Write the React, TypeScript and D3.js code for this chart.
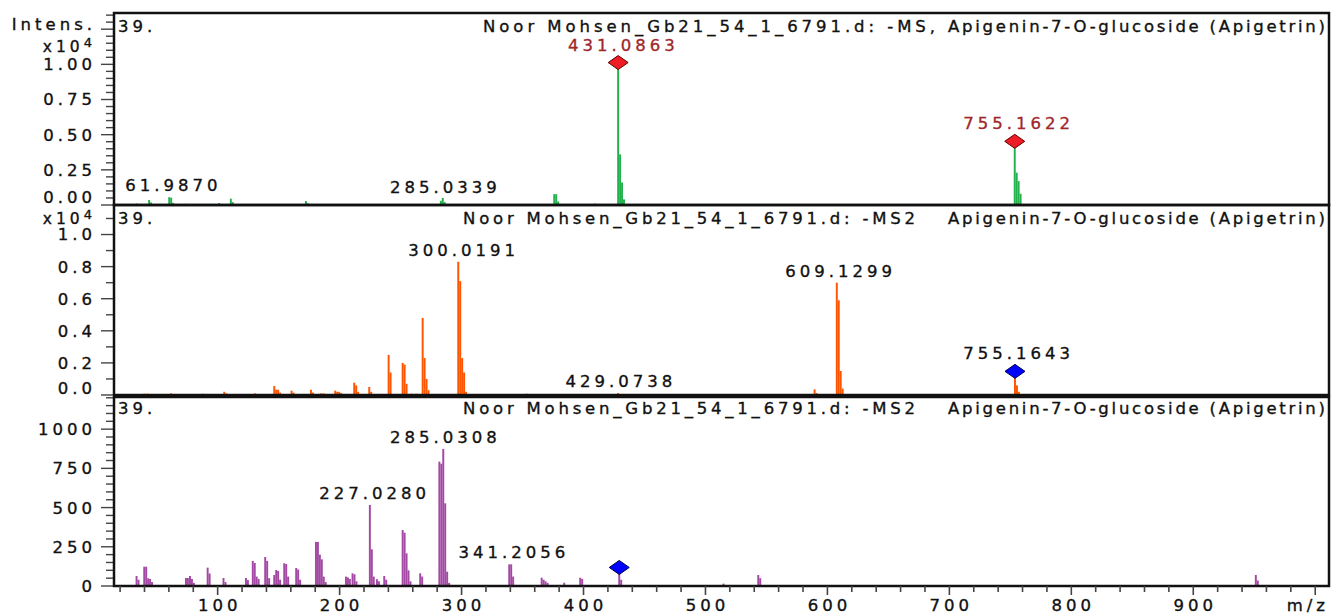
// Stacked MS / MS2 spectra for Apigenin-7-O-glucoside, drawn with d3 scales.
import * as d3 from "d3";

// ---- data ----
const mzDomain: [number, number] = [15, 1011.3];
const mzTickLabels = [100, 200, 300, 400, 500, 600, 700, 800, 900];

const fileTitles = [
  "Noor Mohsen_Gb21_54_1_6791.d: -MS,",
  "Noor Mohsen_Gb21_54_1_6791.d: -MS2",
  "Noor Mohsen_Gb21_54_1_6791.d: -MS2",
];
const compound = "Apigenin-7-O-glucoside (Apigetrin)";
const scanNo = "39.";

// panel 1: MS (x10^4)
const ms1Ticks = [0, 0.25, 0.5, 0.75, 1.0];
const ms1Sticks: [number, number][] = [
  [32.8, 0.01],
  [43.0, 0.035], [44.6, 0.018],
  [59.5, 0.056], [61.1, 0.052], [62.7, 0.015],
  [73.0, 0.008],
  [100.5, 0.014],
  [110.0, 0.045], [111.6, 0.02],
  [171.6, 0.028], [173.2, 0.012], [176.5, 0.008],
  [282.2, 0.03], [283.8, 0.05], [285.4, 0.02],
  [375.2, 0.077], [376.8, 0.077], [378.4, 0.025],
  [408.6, 0.01],
  [427.6, 0.97], [429.2, 0.36], [430.8, 0.16], [432.4, 0.04],
  [752.8, 0.41], [754.4, 0.23], [756.0, 0.17], [757.6, 0.08],
  [819.5, 0.006], [867.0, 0.006],
];
const ms1Labels = [
  { mz: 61.987, text: "61.9870", value: 0.056, marked: false },
  { mz: 285.0339, text: "285.0339", value: 0.045, marked: false },
  { mz: 431.0863, text: "431.0863", value: 0.97, marked: true },
  { mz: 755.1622, text: "755.1622", value: 0.41, marked: true },
];
const ms1Markers = [
  { mz: 428.4, value: 0.97 },
  { mz: 753.6, value: 0.41 },
];

// panel 2: MS2 (x10^4)
const ms2Ticks = [0, 0.2, 0.4, 0.6, 0.8, 1.0];
const ms2Sticks: [number, number][] = [
  [39.0, 0.008], [41.7, 0.008], [61.0, 0.01], [87.0, 0.008],
  [104.6, 0.02], [106.2, 0.01], [130.0, 0.01],
  [145.6, 0.056], [147.2, 0.033], [148.8, 0.033], [150.4, 0.015],
  [159.8, 0.027], [161.4, 0.015],
  [175.7, 0.033], [177.3, 0.015],
  [184.0, 0.01], [186.0, 0.01],
  [195.6, 0.027], [197.2, 0.02], [198.8, 0.02], [200.4, 0.012],
  [211.2, 0.077], [212.8, 0.06], [214.4, 0.02],
  [223.5, 0.05], [225.1, 0.02],
  [239.4, 0.25], [241.0, 0.14],
  [250.9, 0.2], [252.5, 0.19], [254.1, 0.07],
  [258.0, 0.008], [262.0, 0.008],
  [267.3, 0.48], [268.9, 0.23], [270.5, 0.1], [272.1, 0.03],
  [296.5, 0.83], [298.1, 0.71], [299.7, 0.23], [301.3, 0.14], [302.9, 0.02],
  [352.5, 0.008],
  [427.5, 0.012], [429.1, 0.005],
  [497.0, 0.005], [505.0, 0.006], [519.0, 0.005],
  [588.7, 0.035], [590.3, 0.012],
  [606.9, 0.7], [608.5, 0.59], [610.1, 0.15], [611.7, 0.04],
  [753.0, 0.11], [754.6, 0.06], [756.2, 0.02],
];
const ms2Labels = [
  { mz: 300.0191, text: "300.0191", value: 0.83, marked: false },
  { mz: 429.0738, text: "429.0738", value: 0.012, marked: false },
  { mz: 609.1299, text: "609.1299", value: 0.7, marked: false },
  { mz: 755.1643, text: "755.1643", value: 0.11, marked: true },
];
const ms2Markers = [{ mz: 753.8, value: 0.11 }];

// panel 3: MS2 (absolute counts)
const ms3Ticks = [0, 250, 500, 750, 1000];
const ms3Sticks: [number, number][] = [
  [32.7, 64], [34.3, 40],
  [39.0, 123], [40.6, 123], [42.2, 49], [43.8, 45], [45.4, 25],
  [73.2, 51], [74.8, 51], [76.5, 64], [78.1, 45], [79.7, 20],
  [91.0, 117], [92.6, 80],
  [104.0, 51], [105.6, 25],
  [122.4, 51], [124.0, 38],
  [128.0, 160], [129.6, 147], [131.2, 60], [132.8, 45],
  [138.2, 185], [139.8, 160], [141.4, 50],
  [145.6, 70], [147.2, 102], [148.8, 96], [150.4, 40],
  [153.8, 145], [155.4, 140], [157.0, 60],
  [163.6, 115], [165.2, 105], [166.8, 40],
  [179.8, 281], [181.4, 281], [183.0, 200], [184.6, 170], [186.2, 60], [187.8, 25],
  [204.4, 60], [206.0, 55], [207.6, 45],
  [209.8, 81], [211.4, 75], [213.0, 30],
  [224.0, 517], [225.6, 234], [227.2, 60],
  [229.8, 43], [231.4, 30],
  [235.8, 64], [237.4, 40],
  [250.9, 357], [252.5, 340], [254.1, 208], [255.7, 100], [257.3, 30],
  [265.3, 81], [266.9, 60],
  [281.0, 793], [282.6, 780], [284.2, 874], [285.8, 527], [287.4, 91], [289.0, 20],
  [338.3, 138], [339.9, 138], [341.5, 60],
  [364.9, 53], [366.5, 40], [368.1, 30], [369.7, 20],
  [383.4, 21],
  [396.5, 53], [398.1, 45],
  [428.5, 80], [430.1, 40],
  [514.0, 15],
  [542.5, 70], [544.1, 50],
  [950.5, 70], [952.1, 35],
];
const ms3Labels = [
  { mz: 227.028, text: "227.0280", value: 517, marked: false },
  { mz: 285.0308, text: "285.0308", value: 874, marked: false },
  { mz: 341.2056, text: "341.2056", value: 138, marked: false },
];
const ms3Markers = [{ mz: 429.3, value: 80 }];

// ---- layout / style ----
const W = 1332;
const H = 616;
const X0 = 114;
const X1 = 1329;
const STICK_MZ = 1.6;
const FONT = "'DejaVu Sans', Verdana, sans-serif";
const LS = 4.0; // letter spacing of the stretched original

const x = d3.scaleLinear().domain(mzDomain).range([X0, X1]);

const panels = [
  {
    top: 13, bottom: 205, yMax: 1.365, major: 0.25, minor: 0.05,
    ticks: ms1Ticks, fmt: d3.format(".2f"), zeroShift: -8, exp: true,
    sticks: ms1Sticks, color: "#22b14c", labels: ms1Labels, markers: ms1Markers,
    markFill: "#ee1c24", markStroke: "#600000", markLabel: "#a0282a",
    title: fileTitles[0], titleX: 483, titleBase: 32,
  },
  {
    top: 205, bottom: 395, yMax: 1.184, major: 0.2, minor: 0.1,
    ticks: ms2Ticks, fmt: d3.format(".1f"), zeroShift: -7, exp: true,
    sticks: ms2Sticks, color: "#ff5500", labels: ms2Labels, markers: ms2Markers,
    markFill: "#0000ff", markStroke: "#000050", markLabel: "#111",
    title: fileTitles[1], titleX: 463, titleBase: 224,
  },
  {
    top: 397, bottom: 586, yMax: 1205, major: 250, minor: 50,
    ticks: ms3Ticks, fmt: d3.format("d"), zeroShift: 0, exp: false,
    sticks: ms3Sticks, color: "#a349a4", labels: ms3Labels, markers: ms3Markers,
    markFill: "#0000ff", markStroke: "#000050", markLabel: "#111",
    title: fileTitles[2], titleX: 463, titleBase: 414,
  },
];

// slight stroke to mimic the heavier ClearType rendering
const textStyle = {
  fontFamily: FONT,
  fontSize: 16.5,
  letterSpacing: `${LS}px`,
  stroke: "currentColor",
  strokeWidth: 0.35,
};

function Panel({ p, first }: { p: any; first: boolean }) {
  const y = d3.scaleLinear().domain([0, p.yMax]).range([p.bottom, p.top]);
  const minorTicks = d3.range(0, p.yMax + 1e-9, p.minor);
  const isMajor = (v: number) => Math.abs(v / p.major - Math.round(v / p.major)) < 1e-6;
  const diamond = (cx: number, cy: number) =>
    `M${cx},${cy - 7}L${cx + 10},${cy}L${cx},${cy + 7}L${cx - 10},${cy}Z`;

  return (
    <g>
      {/* spectrum sticks */}
      {p.sticks.map(([mz, v]: [number, number], i: number) => (
        <rect
          key={i}
          x={x(mz)}
          y={y(v)}
          width={x(mz + STICK_MZ) - x(mz)}
          height={p.bottom - y(v)}
          fill={p.color}
        />
      ))}

      {/* y ticks */}
      {minorTicks.map((v: number, i: number) => (
        <line
          key={i}
          x1={isMajor(v) ? 101 : 106}
          x2={X0}
          y1={y(v)}
          y2={y(v)}
          stroke="#444"
          strokeWidth={1.4}
        />
      ))}
      {p.ticks.map((v: number) => (
        <text
          key={v}
          x={92 + LS}
          y={y(v) + (v === 0 ? p.zeroShift : 0)}
          dy="0.36em"
          textAnchor="end"
          fill="#111"
          color="#111"
          style={textStyle}
        >
          {p.fmt(v)}
        </text>
      ))}
      {first && (
        <text x={92 + LS} y={30} textAnchor="end" fill="#111" color="#111" style={textStyle}>
          Intens.
        </text>
      )}
      {p.exp && (
        <text
          x={92 + LS}
          y={first ? 52 : 224}
          textAnchor="end"
          fill="#111"
          color="#111"
          style={{ ...textStyle, fontSize: 15.5 }}
        >
          x10
          <tspan dy={-5.5} fontSize={13}>4</tspan>
        </text>
      )}

      {/* frame */}
      <rect
        x={X0}
        y={p.top}
        width={X1 - X0}
        height={p.bottom - p.top}
        fill="none"
        stroke="#111"
        strokeWidth={2.5}
      />

      {/* header */}
      <text x={118} y={p.titleBase} fill="#111" color="#111" style={textStyle}>
        {scanNo}
      </text>
      <text
        x={p.titleX}
        y={p.titleBase}
        fill="#111"
        textLength={452}
        lengthAdjust="spacing"
        style={{ fontFamily: FONT, fontSize: 16.5, stroke: "#111", strokeWidth: 0.35 }}
      >
        {p.title}
      </text>
      <text
        x={1325 - 377}
        y={p.titleBase}
        fill="#111"
        textLength={377}
        lengthAdjust="spacing"
        style={{ fontFamily: FONT, fontSize: 16.5, stroke: "#111", strokeWidth: 0.35 }}
      >
        {compound}
      </text>

      {/* precursor markers */}
      {p.markers.map((m: any, i: number) => (
        <path
          key={i}
          d={diamond(x(m.mz), y(m.value) - 6)}
          fill={p.markFill}
          stroke={p.markStroke}
          strokeWidth={1}
        />
      ))}

      {/* peak labels */}
      {p.labels.map((l: any) => {
        const c = l.marked ? p.markLabel : "#111";
        return (
          <text
            key={l.text}
            x={x(l.mz) + LS / 2}
            y={y(l.value) - 6 - (l.marked ? 12 : 0)}
            textAnchor="middle"
            fill={c}
            color={c}
            style={textStyle}
          >
            {l.text}
          </text>
        );
      })}
    </g>
  );
}

function MzAxis({ base }: { base: number }) {
  const ticks = d3.range(20, 1001, 20);
  return (
    <g>
      {ticks.map((t: number) => (
        <line
          key={t}
          x1={x(t)}
          x2={x(t)}
          y1={base}
          y2={base + (t % 100 === 0 ? 9 : 6)}
          stroke="#444"
          strokeWidth={1.6}
        />
      ))}
      {mzTickLabels.map((t) => (
        <text
          key={t}
          x={x(t) + LS / 2}
          y={611}
          textAnchor="middle"
          fill="#111"
          color="#111"
          style={textStyle}
        >
          {t}
        </text>
      ))}
      <text x={1325 + LS} y={611} textAnchor="end" fill="#111" color="#111" style={textStyle}>
        m/z
      </text>
    </g>
  );
}

export default function App() {
  return (
    <svg
      width={W}
      height={H}
      viewBox={`0 0 ${W} ${H}`}
      style={{ position: "absolute", left: 0, top: 0, background: "#fff" }}
    >
      <rect width={W} height={H} fill="#fff" />
      {panels.map((p, i) => (
        <Panel key={i} p={p} first={i === 0} />
      ))}
      <MzAxis base={586} />
    </svg>
  );
}
